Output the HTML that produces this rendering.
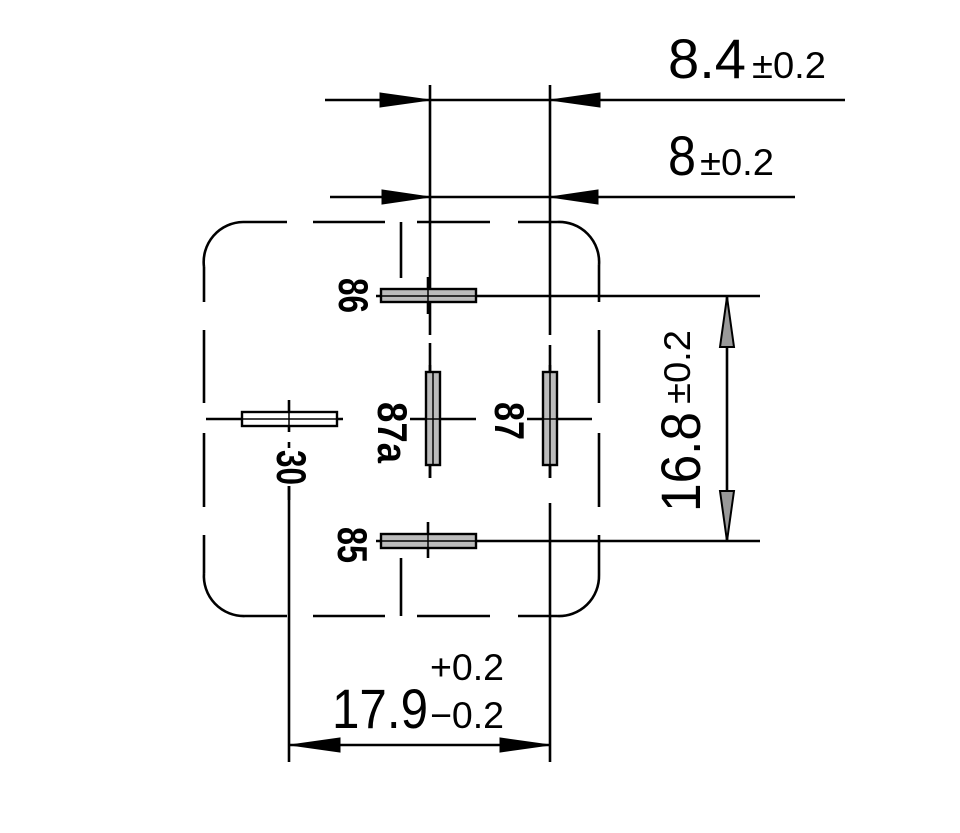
<!DOCTYPE html>
<html><head><meta charset="utf-8"><style>
html,body{margin:0;padding:0;background:#fff;}
svg{display:block;}
text{font-family:"Liberation Sans Narrow","Liberation Sans",sans-serif;fill:#000;}
</style></head><body>
<svg width="960" height="833" viewBox="0 0 960 833" xmlns="http://www.w3.org/2000/svg">
<g stroke="#000" stroke-width="2.6" fill="none" stroke-linecap="butt">
<path d="M204 267 A40 40 0 0 1 243 222"/>
<path d="M557 222 A40 40 0 0 1 599 265"/>
<path d="M204 573 A40 40 0 0 0 245 616"/>
<path d="M557 616 A40 40 0 0 0 599 575"/>
<line x1="243" y1="222" x2="287" y2="222"/>
<line x1="313" y1="222" x2="385" y2="222"/>
<line x1="417" y1="222" x2="490" y2="222"/>
<line x1="518" y1="222" x2="557" y2="222"/>
<line x1="245" y1="616" x2="287" y2="616"/>
<line x1="313" y1="616" x2="385" y2="616"/>
<line x1="417" y1="616" x2="490" y2="616"/>
<line x1="518" y1="616" x2="557" y2="616"/>
<line x1="204" y1="267" x2="204" y2="302"/>
<line x1="204" y1="330" x2="204" y2="403"/>
<line x1="204" y1="433" x2="204" y2="507"/>
<line x1="204" y1="535" x2="204" y2="573"/>
<line x1="599" y1="265" x2="599" y2="302"/>
<line x1="599" y1="330" x2="599" y2="403"/>
<line x1="599" y1="433" x2="599" y2="507"/>
<line x1="599" y1="535" x2="599" y2="575"/>
<line x1="401" y1="222" x2="401" y2="278"/>
<line x1="401" y1="558" x2="401" y2="616"/>
<line x1="430" y1="85" x2="430" y2="335"/>
<line x1="430" y1="343" x2="430" y2="478"/>
<line x1="550" y1="85" x2="550" y2="335"/>
<line x1="550" y1="345" x2="550" y2="478"/>
<line x1="550" y1="503" x2="550" y2="762"/>
<line x1="289" y1="400" x2="289" y2="432"/>
<line x1="289" y1="442" x2="289" y2="762"/>
<line x1="325" y1="100" x2="845" y2="100"/>
<line x1="330" y1="197" x2="795" y2="197"/>
<line x1="376" y1="296" x2="760" y2="296"/>
<line x1="376" y1="541" x2="760" y2="541"/>
<line x1="727" y1="297" x2="727" y2="541"/>
<line x1="290" y1="745" x2="550" y2="745"/>
<line x1="428" y1="277" x2="428" y2="314"/>
<line x1="428" y1="522" x2="428" y2="558"/>
<line x1="410" y1="419" x2="476" y2="419"/>
<line x1="527" y1="419" x2="592" y2="419"/>
<line x1="206" y1="419" x2="343" y2="419"/>
<line x1="430" y1="365" x2="430" y2="478"/>
<line x1="550" y1="365" x2="550" y2="478"/>
</g>
<g stroke="#000" stroke-width="2.4" fill="#bbb">
<rect x="381" y="289" width="95" height="13"/>
<rect x="381" y="534" width="95" height="14"/>
<rect x="426" y="372" width="14" height="93"/>
<rect x="543" y="372" width="14" height="93"/>
<rect x="242" y="412" width="95" height="14" fill="#fff"/>
</g>
<g stroke="#000" stroke-width="1.5">
<line x1="381" y1="296" x2="476" y2="296"/><line x1="381" y1="541" x2="476" y2="541"/>
<line x1="433" y1="372" x2="433" y2="465"/><line x1="550" y1="372" x2="550" y2="465"/>
<line x1="242" y1="419" x2="337" y2="419"/>
<line x1="428" y1="285" x2="428" y2="306"/><line x1="428" y1="530" x2="428" y2="552"/>
<line x1="289" y1="408" x2="289" y2="430"/><line x1="426" y1="419" x2="440" y2="419"/><line x1="543" y1="419" x2="557" y2="419"/>
</g>
<g fill="#000" stroke="#000" stroke-width="1">
<polygon points="430,100 380,93 380,107"/>
<polygon points="550,100 600,93 600,107"/>
<polygon points="430,197 382,190 382,204"/>
<polygon points="550,197 598,190 598,204"/>
<polygon points="290,745 340,738 340,752"/>
<polygon points="550,745 500,738 500,752"/>
</g>
<g fill="#999" stroke="#000" stroke-width="2">
<polygon points="727,297 720,347 734,347"/>
<polygon points="727,541 720,491 734,491"/>
</g>
<g font-weight="bold" font-size="42">
<rect x="277" y="448" width="32" height="38" fill="#fff"/>
<text transform="translate(339,278) rotate(90)" textLength="35" lengthAdjust="spacingAndGlyphs">86</text>
<text transform="translate(338,527) rotate(90)" textLength="36" lengthAdjust="spacingAndGlyphs">85</text>
<text transform="translate(378,402) rotate(90)" textLength="61" lengthAdjust="spacingAndGlyphs">87a</text>
<text transform="translate(495,402) rotate(90)" textLength="38" lengthAdjust="spacingAndGlyphs">87</text>
<text transform="translate(277,450) rotate(90)" textLength="35" lengthAdjust="spacingAndGlyphs">30</text>
</g>
<line x1="289" y1="486" x2="289" y2="500" stroke="#000" stroke-width="2.6"/>
<text x="668" y="78" font-size="56" textLength="78" lengthAdjust="spacingAndGlyphs">8.4</text>
<text x="752" y="78" font-size="37" textLength="74" lengthAdjust="spacingAndGlyphs">±0.2</text>
<text x="668" y="175" font-size="56" textLength="28" lengthAdjust="spacingAndGlyphs">8</text>
<text x="700" y="175" font-size="37" textLength="74" lengthAdjust="spacingAndGlyphs">±0.2</text>
<text x="332" y="728" font-size="56" textLength="96" lengthAdjust="spacingAndGlyphs">17.9</text>
<text x="430" y="680" font-size="37" textLength="74" lengthAdjust="spacingAndGlyphs">+0.2</text>
<text x="430" y="728" font-size="37" textLength="74" lengthAdjust="spacingAndGlyphs">−0.2</text>
<text transform="translate(700,512) rotate(-90)" font-size="56" textLength="100" lengthAdjust="spacingAndGlyphs">16.8</text>
<text transform="translate(690,404) rotate(-90)" font-size="37" textLength="74" lengthAdjust="spacingAndGlyphs">±0.2</text>
</svg>
</body></html>
